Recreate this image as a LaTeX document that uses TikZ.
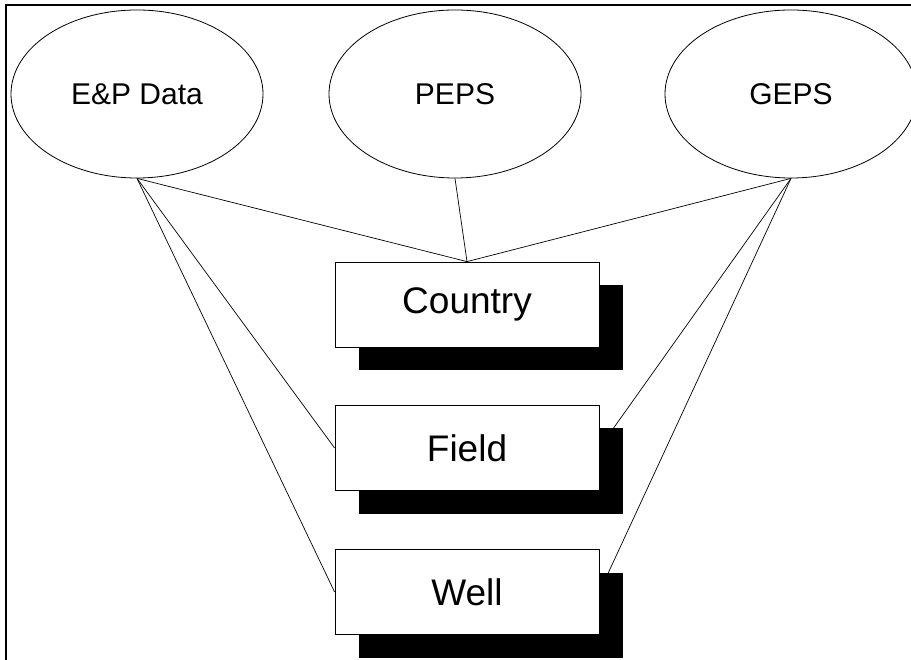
\documentclass[tikz,border=0pt]{standalone}
\usepackage{fontspec}
\setmainfont{Liberation Sans}
\usetikzlibrary{shapes.geometric,shadows,backgrounds}

\tikzset{
    source/.style={draw, ellipse, line width=0.8pt, minimum width=252pt,
        minimum height=168pt, inner sep=0pt, font=\fontsize{30}{36}\selectfont},
    level/.style={draw, fill=white, line width=0.8pt, minimum width=264pt,
        minimum height=85pt, inner sep=0pt, font=\fontsize{37}{44}\selectfont,
        drop shadow={fill=black, opacity=1, shadow xshift=24pt, shadow yshift=-23pt}},
    link/.style={line width=0.7pt}
}

\begin{document}
\begin{tikzpicture}[x=1pt,y=-1pt]
                      \useasboundingbox (0,0) rectangle (911,660);
                      \draw[line width=2pt] (6,670) -- (6,5) -- (920,5);

                      \node[source] (ep) at (137,94) {E\&P Data};
                      \node[source] (peps) at (455,94) {PEPS};
                      \node[source] (geps) at (791,94) {GEPS};

                      \node[level] (country) at (467,304.5) {Country};
                      \node[level] (field) at (467,448) {Field};
                      \node[level] (well) at (467,592) {Well};

                      \begin{scope}[on background layer]
                      \draw[link] (ep.south) -- (country.north);
                      \draw[link] (peps.south) -- (country.north);
                      \draw[link] (geps.south) -- (country.north);
                      \draw[link] (ep.south) -- (field.west);
                      \draw[link] (ep.south) -- (well.west);
                      \draw[link] (geps.south) -- (field.east);
                      \draw[link] (geps.south) -- (well.east);
                      \end{scope}

                  \end{tikzpicture}
\end{document}
